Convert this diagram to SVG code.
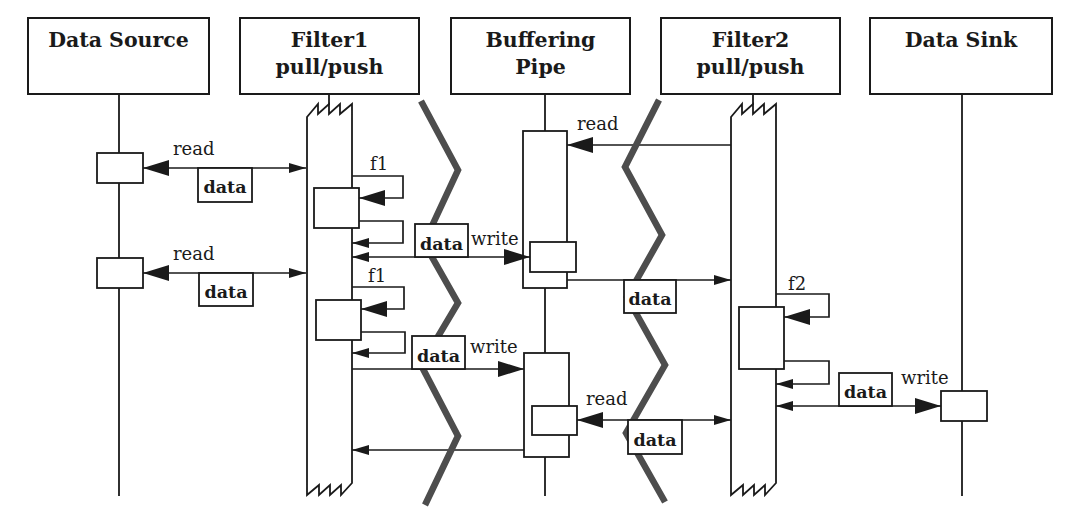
<svg xmlns="http://www.w3.org/2000/svg" width="1089" height="514" viewBox="0 0 1089 514">
<style>
  .box { fill: #fff; stroke: #1a1a1a; stroke-width: 2; }
  .act { fill: #fff; stroke: #1a1a1a; stroke-width: 1.8; }
  .life { fill: none; stroke: #1a1a1a; stroke-width: 1.8; }
  .msg { fill: none; stroke: #1a1a1a; stroke-width: 1.7; }
  .zig { fill: none; stroke: #4d4d4d; stroke-width: 6.5; stroke-linejoin: miter; stroke-miterlimit: 10; }
  .hdr { font-family: "DejaVu Serif", "Liberation Serif", serif; font-weight: bold; font-size: 20.5px; fill: #1a1a1a; text-anchor: middle; }
  .lbl { font-family: "DejaVu Serif", "Liberation Serif", serif; font-size: 18px; fill: #1a1a1a; }
  .dat { font-family: "DejaVu Serif", "Liberation Serif", serif; font-weight: bold; font-size: 17.5px; fill: #1a1a1a; text-anchor: middle; }
  .dbox { fill: #fff; stroke: #1a1a1a; stroke-width: 1.8; }
</style>
<defs>
  <marker id="big" viewBox="0 0 26 16" refX="26" refY="8" markerWidth="26" markerHeight="16" markerUnits="userSpaceOnUse" orient="auto-start-reverse">
    <path d="M0,0 L26,8 L0,16 z" fill="#1a1a1a"/>
  </marker>
  <marker id="small" viewBox="0 0 17 10" refX="17" refY="5" markerWidth="17" markerHeight="10" markerUnits="userSpaceOnUse" orient="auto-start-reverse">
    <path d="M0,0 L17,5 L0,10 z" fill="#1a1a1a"/>
  </marker>
</defs>
<rect width="1089" height="514" fill="#fff"/>

<g id="data-source">
  <line class="life" x1="119" y1="94" x2="119" y2="496"/>
  <rect class="box" x="28" y="18" width="181" height="76"/>
  <text class="hdr" x="118.5" y="47">Data Source</text>
  <rect class="act" x="97" y="153" width="46" height="30"/>
  <rect class="act" x="97" y="258" width="46" height="30"/>
</g>

<g id="filter1">
  <line class="life" x1="329" y1="94" x2="329" y2="105"/>
  <rect class="box" x="240" y="18" width="179" height="76"/>
  <text class="hdr" x="329.5" y="47">Filter1</text>
  <text class="hdr" x="329.5" y="74">pull/push</text>
  <path class="act" d="M307,495 L307,117 L318,104 L318,114 L329,104 L329,114 L340,104 L340,114 L352,104 L352,483 L341,495 L341,485 L330,495 L330,485 L319,495 L319,485 Z"/>
  <rect class="act" x="314" y="188" width="45" height="40"/>
  <rect class="act" x="316" y="300" width="45" height="40"/>
</g>

<g id="buffering-pipe">
  <line class="life" x1="545" y1="94" x2="545" y2="496"/>
  <rect class="box" x="451" y="18" width="179" height="76"/>
  <text class="hdr" x="540.5" y="47">Buffering</text>
  <text class="hdr" x="540.5" y="74">Pipe</text>
  <rect class="act" x="523" y="131" width="44" height="157"/>
  <rect class="act" x="530" y="242" width="46" height="30"/>
  <rect class="act" x="524" y="353" width="45" height="104"/>
  <rect class="act" x="532" y="406" width="45" height="29"/>
</g>

<g id="filter2">
  <line class="life" x1="753" y1="94" x2="753" y2="105"/>
  <rect class="box" x="661" y="18" width="179" height="76"/>
  <text class="hdr" x="750.5" y="47">Filter2</text>
  <text class="hdr" x="750.5" y="74">pull/push</text>
  <path class="act" d="M731,495 L731,117 L742,104 L742,114 L753,104 L753,114 L764,104 L764,114 L776,104 L776,483 L765,495 L765,485 L754,495 L754,485 L743,495 L743,485 Z"/>
  <rect class="act" x="739" y="307" width="45" height="62"/>
</g>

<g id="data-sink">
  <line class="life" x1="962" y1="94" x2="962" y2="496"/>
  <rect class="box" x="870" y="18" width="182" height="76"/>
  <text class="hdr" x="961" y="47">Data Sink</text>
  <rect class="act" x="941" y="391" width="46" height="30"/>
</g>

<g id="connectors">
  <line class="msg" x1="143" y1="168" x2="306" y2="168" marker-start="url(#big)" marker-end="url(#small)"/>
  <line class="msg" x1="143" y1="273" x2="306" y2="273" marker-start="url(#big)" marker-end="url(#small)"/>
  <polyline class="msg" points="352,176 403,176 403,198 359,198" marker-end="url(#big)"/>
  <polyline class="msg" points="359,221 403,221 403,243 352,243" marker-end="url(#small)"/>
  <line class="msg" x1="352" y1="257" x2="530" y2="257" marker-start="url(#small)" marker-end="url(#big)"/>
  <polyline class="msg" points="352,287 404,287 404,309 361,309" marker-end="url(#big)"/>
  <polyline class="msg" points="361,332 405,332 405,353 352,353" marker-end="url(#small)"/>
  <line class="msg" x1="352" y1="369" x2="524" y2="369" marker-end="url(#big)"/>
  <line class="msg" x1="524" y1="450" x2="352" y2="450" marker-end="url(#small)"/>
  <line class="msg" x1="731" y1="145" x2="567" y2="145" marker-end="url(#big)"/>
  <line class="msg" x1="567" y1="280" x2="731" y2="280" marker-end="url(#small)"/>
  <line class="msg" x1="577" y1="420" x2="731" y2="420" marker-start="url(#big)" marker-end="url(#small)"/>
  <polyline class="msg" points="776,294 829,294 829,317 784,317" marker-end="url(#big)"/>
  <polyline class="msg" points="784,361 829,361 829,384 776,384" marker-end="url(#small)"/>
  <line class="msg" x1="776" y1="406" x2="941" y2="406" marker-start="url(#small)" marker-end="url(#big)"/>
</g>

<g id="thread-boundaries">
  <polyline class="zig" points="421,101 458,170 424,243 458,303 421,365 458,436 425,505"/>
  <polyline class="zig" points="659,100 625,167 662,235 627,297 665,365 626,433 665,502"/>
</g>

<g id="labels">
  <text class="lbl" x="173" y="155">read</text>
  <text class="lbl" x="173" y="260">read</text>
  <text class="lbl" x="370" y="170">f1</text>
  <text class="lbl" x="368" y="282">f1</text>
  <text class="lbl" x="471" y="245">write</text>
  <text class="lbl" x="470" y="353">write</text>
  <text class="lbl" x="577" y="130">read</text>
  <text class="lbl" x="586" y="405">read</text>
  <text class="lbl" x="788" y="290">f2</text>
  <text class="lbl" x="901" y="384">write</text>

  <rect class="dbox" x="198" y="168" width="54" height="34"/>
  <text class="dat" x="225" y="193">data</text>
  <rect class="dbox" x="199" y="273" width="54" height="33"/>
  <text class="dat" x="226" y="298">data</text>
  <rect class="dbox" x="415" y="224" width="53" height="33"/>
  <text class="dat" x="441.5" y="250">data</text>
  <rect class="dbox" x="412" y="336" width="53" height="33"/>
  <text class="dat" x="438.5" y="362">data</text>
  <rect class="dbox" x="624" y="280" width="52" height="33"/>
  <text class="dat" x="650" y="305">data</text>
  <rect class="dbox" x="628" y="420" width="54" height="34"/>
  <text class="dat" x="655" y="446">data</text>
  <rect class="dbox" x="839" y="373" width="53" height="33"/>
  <text class="dat" x="865.5" y="398">data</text>
</g>
</svg>
